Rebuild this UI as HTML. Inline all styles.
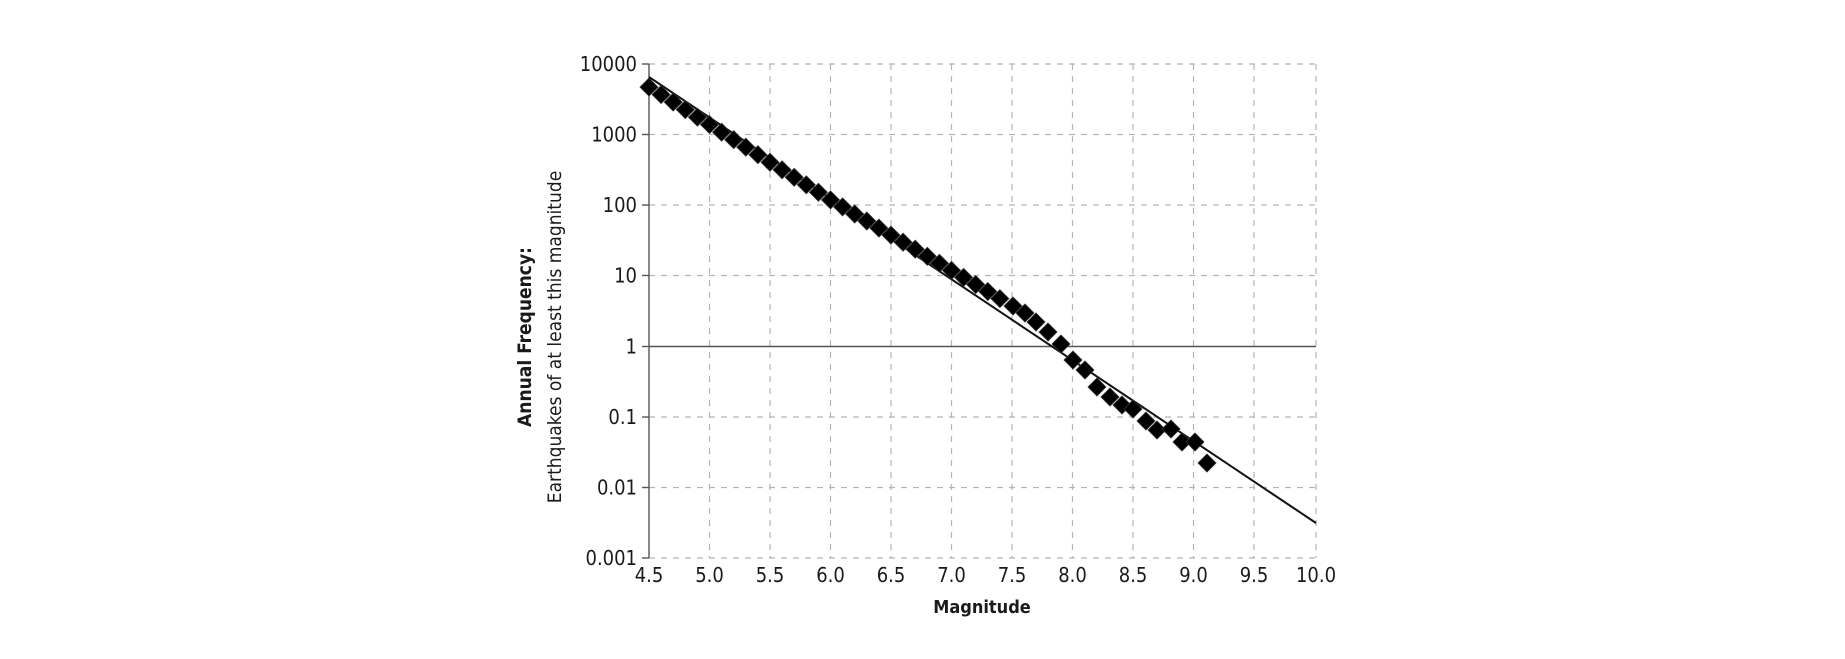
<!DOCTYPE html>
<html><head><meta charset="utf-8"><style>
html,body{margin:0;padding:0;background:#fff;}
svg{display:block;}
text{font-family:"DejaVu Sans Condensed","Liberation Sans",sans-serif;fill:#1a1a1a;}
</style></head><body>
<svg width="1845" height="659" viewBox="0 0 1845 659" xmlns="http://www.w3.org/2000/svg">
<g stroke="#b5b5b5" stroke-width="1.2" stroke-dasharray="6,6" fill="none">
<line x1="649" y1="64" x2="1316" y2="64"/>
<line x1="649" y1="134.5" x2="1316" y2="134.5"/>
<line x1="649" y1="205" x2="1316" y2="205"/>
<line x1="649" y1="275.5" x2="1316" y2="275.5"/>
<line x1="649" y1="417" x2="1316" y2="417"/>
<line x1="649" y1="487.5" x2="1316" y2="487.5"/>
<line x1="649" y1="558" x2="1316" y2="558"/>
<line x1="709.5" y1="64" x2="709.5" y2="558"/>
<line x1="770" y1="64" x2="770" y2="558"/>
<line x1="830.5" y1="64" x2="830.5" y2="558"/>
<line x1="891" y1="64" x2="891" y2="558"/>
<line x1="951.5" y1="64" x2="951.5" y2="558"/>
<line x1="1012" y1="64" x2="1012" y2="558"/>
<line x1="1072.5" y1="64" x2="1072.5" y2="558"/>
<line x1="1133" y1="64" x2="1133" y2="558"/>
<line x1="1193.5" y1="64" x2="1193.5" y2="558"/>
<line x1="1254" y1="64" x2="1254" y2="558"/>
<line x1="1316" y1="64" x2="1316" y2="558"/>
</g>
<g stroke="#555" stroke-width="1.4">
<line x1="649" y1="64" x2="649" y2="558"/>
<line x1="649" y1="346.5" x2="1316" y2="346.5"/>
<line x1="642" y1="64" x2="649" y2="64"/>
<line x1="642" y1="134.5" x2="649" y2="134.5"/>
<line x1="642" y1="205" x2="649" y2="205"/>
<line x1="642" y1="275.5" x2="649" y2="275.5"/>
<line x1="642" y1="346.5" x2="649" y2="346.5"/>
<line x1="642" y1="417" x2="649" y2="417"/>
<line x1="642" y1="487.5" x2="649" y2="487.5"/>
<line x1="642" y1="558" x2="649" y2="558"/>
</g>
<line x1="649" y1="77" x2="1316" y2="523" stroke="#111" stroke-width="2"/>
<g fill="#000" stroke="#333" stroke-width="0.8">
<path d="M649 78.1l9 9-9 9-9-9z"/><path d="M661.1 85.6l9 9-9 9-9-9z"/><path d="M673.2 93.1l9 9-9 9-9-9z"/><path d="M685.3 100.6l9 9-9 9-9-9z"/><path d="M697.4 108.2l9 9-9 9-9-9z"/><path d="M709.5 115.6l9 9-9 9-9-9z"/><path d="M721.6 123.2l9 9-9 9-9-9z"/><path d="M733.7 130.7l9 9-9 9-9-9z"/><path d="M745.8 138.2l9 9-9 9-9-9z"/><path d="M757.9 145.7l9 9-9 9-9-9z"/><path d="M770 153.3l9 9-9 9-9-9z"/><path d="M782.1 160.8l9 9-9 9-9-9z"/><path d="M794.2 168.3l9 9-9 9-9-9z"/><path d="M806.3 175.8l9 9-9 9-9-9z"/><path d="M818.4 183.3l9 9-9 9-9-9z"/><path d="M830.5 190.9l9 9-9 9-9-9z"/><path d="M842.6 197.9l9 9-9 9-9-9z"/><path d="M854.7 205l9 9-9 9-9-9z"/><path d="M866.8 212l9 9-9 9-9-9z"/><path d="M878.9 219.1l9 9-9 9-9-9z"/><path d="M891 226.1l9 9-9 9-9-9z"/><path d="M903.1 233.2l9 9-9 9-9-9z"/><path d="M915.2 240.2l9 9-9 9-9-9z"/><path d="M927.3 247.3l9 9-9 9-9-9z"/><path d="M939.4 254.3l9 9-9 9-9-9z"/><path d="M951.5 261.4l9 9-9 9-9-9z"/><path d="M963.6 268.4l9 9-9 9-9-9z"/><path d="M975.7 275.5l9 9-9 9-9-9z"/><path d="M987.8 282.5l9 9-9 9-9-9z"/><path d="M999.9 289.6l9 9-9 9-9-9z"/>
<path d="M1013 297l9 9-9 9-9-9z"/><path d="M1025 304l9 9-9 9-9-9z"/><path d="M1036 313l9 9-9 9-9-9z"/><path d="M1048 323l9 9-9 9-9-9z"/><path d="M1061 335l9 9-9 9-9-9z"/><path d="M1073 351l9 9-9 9-9-9z"/><path d="M1085 361l9 9-9 9-9-9z"/><path d="M1097 378l9 9-9 9-9-9z"/><path d="M1110 388l9 9-9 9-9-9z"/><path d="M1122 396l9 9-9 9-9-9z"/><path d="M1133 400l9 9-9 9-9-9z"/><path d="M1146 412l9 9-9 9-9-9z"/><path d="M1157 421l9 9-9 9-9-9z"/><path d="M1171 420l9 9-9 9-9-9z"/><path d="M1182 433l9 9-9 9-9-9z"/><path d="M1195 433l9 9-9 9-9-9z"/><path d="M1207 454l9 9-9 9-9-9z"/>
</g>
<g font-size="20" text-anchor="end">
<text x="637" y="71">10000</text>
<text x="637" y="141.5">1000</text>
<text x="637" y="212">100</text>
<text x="637" y="282.5">10</text>
<text x="637" y="353.5">1</text>
<text x="637" y="424">0.1</text>
<text x="637" y="494.5">0.01</text>
<text x="637" y="565">0.001</text>
</g>
<g font-size="20" text-anchor="middle">
<text x="649" y="582">4.5</text><text x="709.5" y="582">5.0</text><text x="770" y="582">5.5</text><text x="830.5" y="582">6.0</text><text x="891" y="582">6.5</text><text x="951.5" y="582">7.0</text><text x="1012" y="582">7.5</text><text x="1072.5" y="582">8.0</text><text x="1133" y="582">8.5</text><text x="1193.5" y="582">9.0</text><text x="1254" y="582">9.5</text><text x="1316" y="582">10.0</text>
</g>
<text x="982" y="613" font-size="18" font-weight="bold" text-anchor="middle">Magnitude</text>
<g font-size="19" text-anchor="middle">
<text transform="translate(531,337) rotate(-90)" font-weight="bold">Annual Frequency:</text>
<text transform="translate(561,337) rotate(-90)">Earthquakes of at least this magnitude</text>
</g>
</svg>
</body></html>
